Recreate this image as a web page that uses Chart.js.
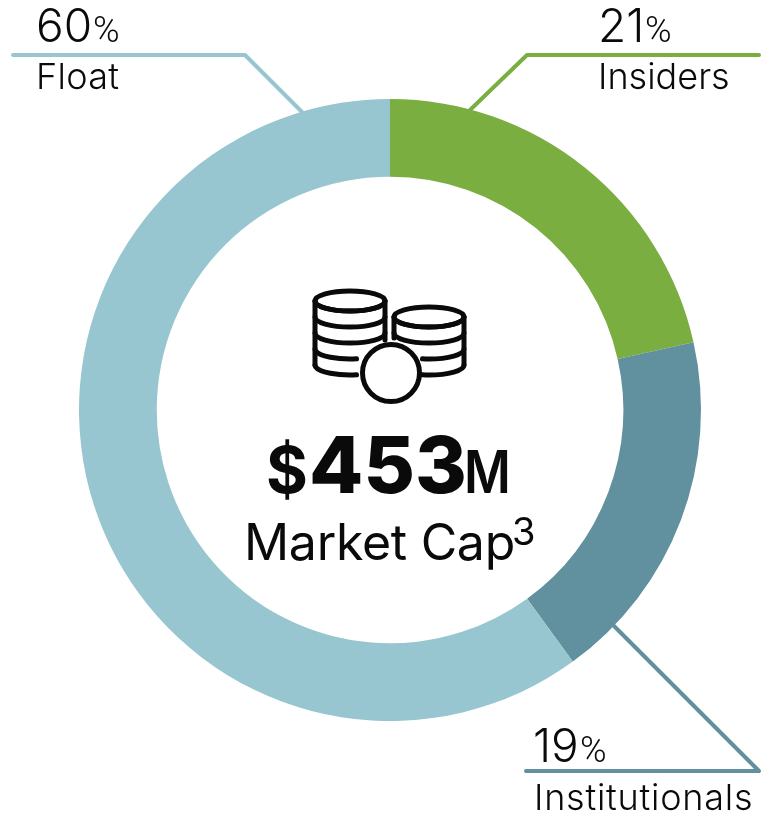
<!DOCTYPE html>
<html><head><meta charset="utf-8">
<style>html,body{margin:0;padding:0;background:#fff}canvas{display:block}</style>
<script src="https://cdn.jsdelivr.net/npm/chart.js@4"></script></head>
<body><div style="width:768px;height:815px"><canvas id="c" width="768" height="815"></canvas></div>
<script>
const categories=['Insiders','Institutionals','Float'];
const sliceShares=[21.5,18.5,60];
const percentLabels=['21','19','60'];
const sliceColors=['#7BAE41','#61909E','#97C5D0'];
const centerValue='453';

const F='Inter';
function txt(ctx,s,x,y,font,ls,sx){ctx.save();ctx.font=font;ctx.textAlign='left';ctx.textBaseline='alphabetic';ctx.fillStyle='#0a0a0a';ctx.letterSpacing=(ls||0)+'px';ctx.translate(x,y);ctx.scale(sx||1,1);ctx.fillText(s,0,0);ctx.restore();}
function line(ctx,pts,col){ctx.beginPath();pts.forEach((p,i)=>i?ctx.lineTo(p[0],p[1]):ctx.moveTo(p[0],p[1]));ctx.strokeStyle=col;ctx.lineWidth=4;ctx.lineCap='round';ctx.lineJoin='round';ctx.stroke();}
function stack(ctx,cx,top,rx,ry,n,gap,side){
  ctx.lineWidth=5;ctx.strokeStyle='#0a0a0a';ctx.lineCap='round';
  ctx.beginPath();ctx.ellipse(cx,top,rx,ry,0,0,Math.PI*2);ctx.stroke();
  for(let i=0;i<n;i++){const y=top+gap*i;ctx.beginPath();
    if(i>=n-2){
      if(side==='left')ctx.ellipse(cx,y,rx,ry,0,Math.PI*0.44,Math.PI);
      else ctx.ellipse(cx,y,rx,ry,0,0,Math.PI*0.56);
    }else ctx.ellipse(cx,y,rx,ry,0,0,Math.PI);
    ctx.stroke();}
}
const overlay={id:'overlay',afterDraw(chart){
  const ctx=chart.ctx;ctx.save();
  line(ctx,[[13,55],[245,55],[302,112]],sliceColors[2]);
  line(ctx,[[470,110],[527,55],[759,55]],sliceColors[0]);
  line(ctx,[[613,625],[759,771],[526,771]],sliceColors[1]);
  const pct='300 36px Roboto';
  txt(ctx,percentLabels[2],36,42,'300 46px '+F);txt(ctx,'%',93,42,pct);
  txt(ctx,categories[2],36,89,'300 36px '+F,0.3);
  txt(ctx,percentLabels[0],598,42,'300 46px '+F);txt(ctx,'%',645,42,pct);
  txt(ctx,categories[0],598,89,'300 36px '+F);
  txt(ctx,percentLabels[1],533,762,'300 46px '+F);txt(ctx,'%',580,762,pct);
  txt(ctx,categories[1],534,810,'300 36px '+F,0.75);
  txt(ctx,'$',266,493,'700 64px '+F);
  txt(ctx,centerValue,309,493,'800 79px '+F);
  txt(ctx,'M',464,493,'600 59px '+F,0,0.86);
  txt(ctx,'Market Cap',244,560,'400 50px '+F,-0.3);
  txt(ctx,'3',512,545,'400 38px '+F);
  stack(ctx,350,301,35,10,5,16,'left');
  ctx.beginPath();ctx.moveTo(315,301);ctx.lineTo(315,365);ctx.moveTo(385,301);ctx.lineTo(385,340);ctx.stroke();
  stack(ctx,429,317,35,10,4,16,'right');
  ctx.beginPath();ctx.moveTo(394,317);ctx.lineTo(394,338);ctx.moveTo(464,317);ctx.lineTo(464,365);ctx.stroke();
  ctx.lineWidth=5;ctx.fillStyle='#fff';ctx.beginPath();ctx.arc(391,373,28.5,0,Math.PI*2);ctx.fill();ctx.stroke();
  ctx.restore();
}};
new Chart(document.getElementById('c'),{type:'doughnut',
  data:{labels:categories,datasets:[{data:sliceShares,backgroundColor:sliceColors,borderWidth:0}]},
  options:{responsive:false,animation:false,cutout:'75%',
    layout:{padding:{left:79,right:67,top:99,bottom:94}},
    plugins:{legend:{display:false},tooltip:{enabled:false}}},
  plugins:[overlay]});
</script></body></html>
